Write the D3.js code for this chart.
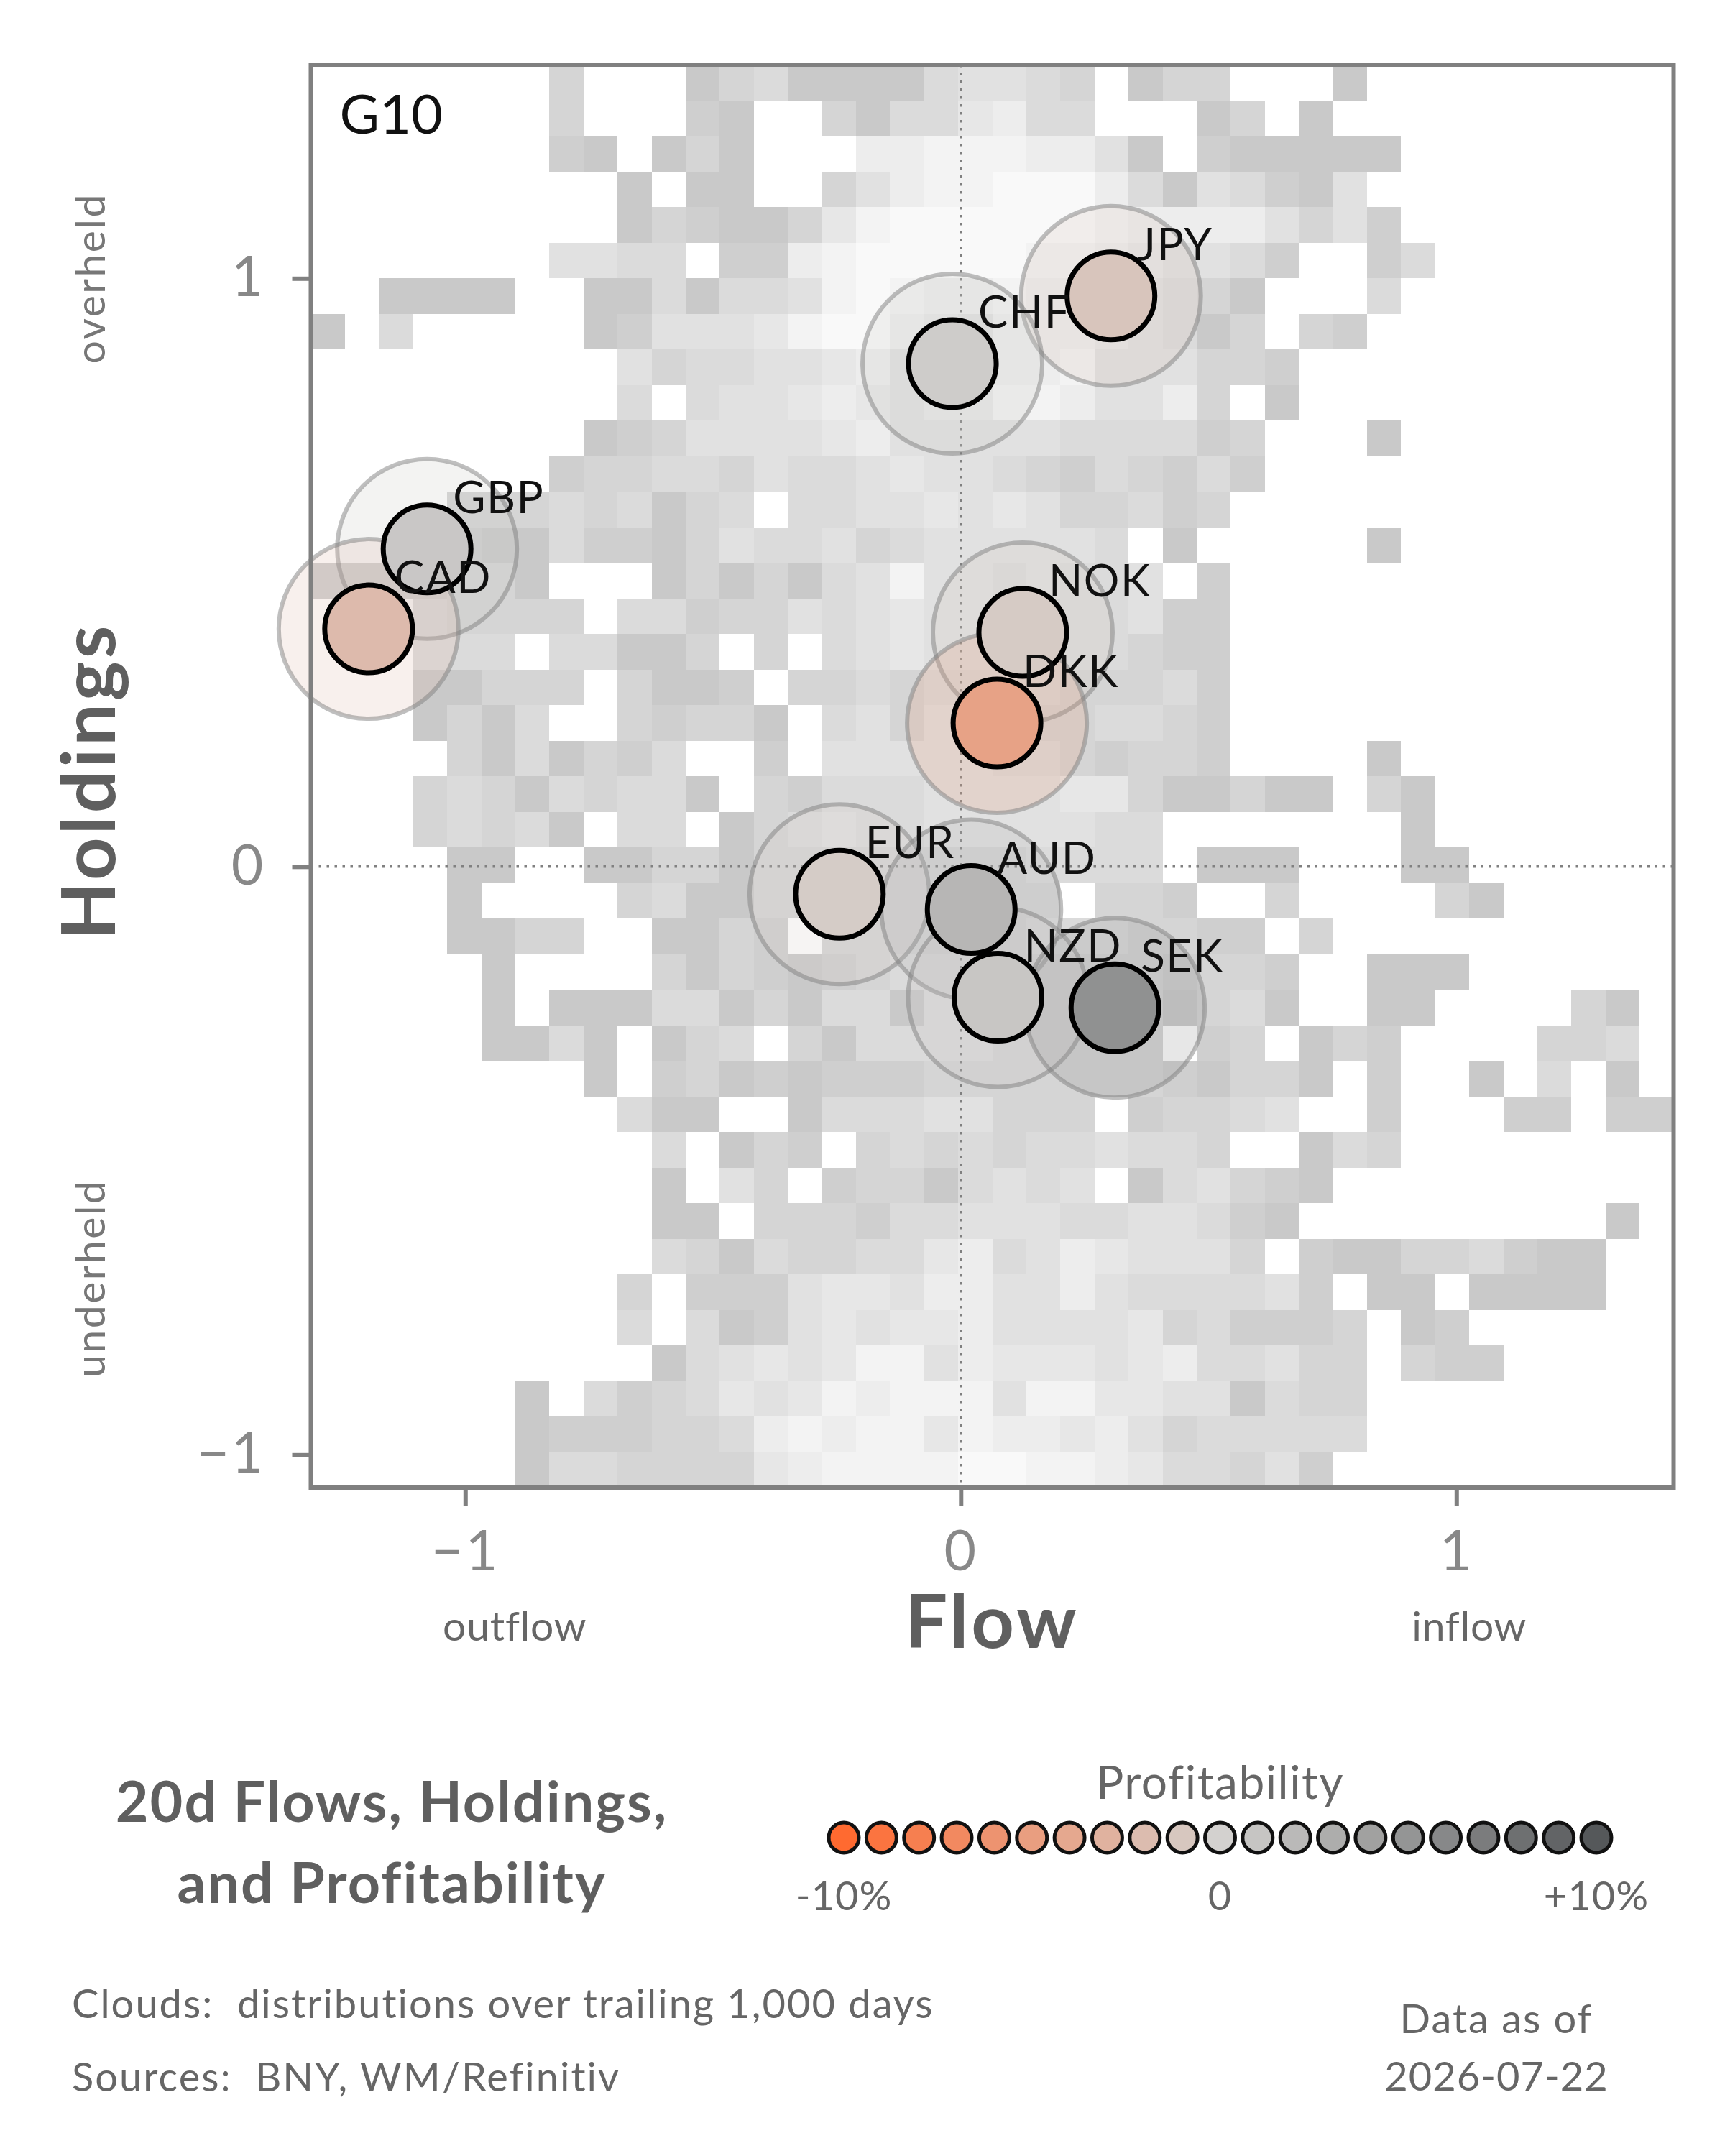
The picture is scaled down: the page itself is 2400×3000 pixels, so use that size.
<!DOCTYPE html>
<html>
<head>
<meta charset="utf-8">
<script src="https://cdn.jsdelivr.net/npm/d3@7"></script>
<style>
  body { margin: 0; background: #fff; }
  text { font-family: Lato, "Noto Sans", sans-serif; }
</style>
</head>
<body>
<script>
// ---- data ----
const currencies = ['JPY', 'CHF', 'GBP', 'CAD', 'NOK', 'DKK', 'EUR', 'AUD', 'NZD', 'SEK'];
const flows      = [0.303, -0.017, -1.077, -1.195, 0.125, 0.073, -0.245, 0.021, 0.075, 0.311];
const holdings   = [0.970, 0.855, 0.540, 0.404, 0.398, 0.244, -0.047, -0.073, -0.222, -0.240];
const profit     = [-1.2, 0.4, 0.8, -2.2, -0.6, -4.6, -0.5, 2.2, 0.9, 5.3];

const xTicks = [-1, 0, 1];
const yTicks = [-1, 0, 1];
const xDomain = [-1.3115, 1.4383];
const yDomain = [-1.0558, 1.3632];

const legendSteps = [-10, -9, -8, -7, -6, -5, -4, -3, -2, -1, 0, 1, 2, 3, 4, 5, 6, 7, 8, 9, 10];
const legendTicks = [-10, 0, 10];
const legendTickText = ['-10%', '0', '+10%'];

// 2d histogram of the trailing clouds, 40 x 40, top row first
// 0 = empty, 1 = sparse (darker grey) ... 9 = dense (near white)
const cloudRows = [
  "0000000300 0134111145 5430133000 1000000000",
  "0000000300 0210031446 7440001301 0000000000",
  "0000000210 1310007788 8775102111 1100000000",
  "0000000001 0110035788 9997415421 5000000000",
  "0000000001 3211368999 9998777753 5200000000",
  "0000000554 4022789999 9887655420 0240000000",
  "0011110011 4144589877 8776543100 0400000000",
  "1040000012 5556899765 7776541303 2000000000",
  "0000000005 3445567567 7785553320 0000000000",
  "0000000004 0455676566 8875573010 0000000000",
  "0000000012 3555567555 5544442300 0100000000",
  "0000000233 4435445655 4324324200 0000000000",
  "0000333434 1340445565 6533423000 0000000000",
  "0000211422 1354453455 5554010000 0100000000",
  "2222331000 1313145855 4544502000 0000000000",
  "0004333304 4233545655 4344522000 0000000000",
  "0004440441 1303045655 4444322000 0000000000",
  "0001133303 1120334344 4433342000 0000000000",
  "0001314003 2331045355 4334432000 0000000000",
  "0000314132 4002055555 4432332000 0100000000",
  "0003431434 4103244455 5566311311 0310000000",
  "0003434104 4013454455 5554400000 0010000000",
  "0000110011 3313333333 3444401110 0011000000",
  "0000100003 4113333333 3303320030 0003100000",
  "0000113300 1132033333 3444332203 0000000000",
  "0000010000 3132123444 3333323320 0111000000",
  "0000010111 4413144144 3333313410 0110000310",
  "0000011410 1340314444 3333302301 3200003340",
  "0000000010 2312122233 3333321331 0200104010",
  "0000000004 1100144455 3330233450 0200022022",
  "0000000000 4013203434 3445443001 4300000000",
  "0000000000 1053023314 5450145321 0000000000",
  "0000000000 1103332445 5544554210 0000000010",
  "0000000000 4314334467 4576555302 1133421100",
  "0000000003 0222566577 5575444452 0110111100",
  "0000000004 0412565667 5555634222 3012000000",
  "0000000000 1456568857 6665674453 3032200000",
  "0000001042 3465687888 5886655143 3000000000",
  "0000001222 3347878868 7767534444 4000000000",
  "0000001443 3336788889 9887644352 0000000000"
];

// ---- layout ----
const W = 2400, H = 3000;
const L = 432.5, R = 2328.5, T = 90, B = 2070;
const AXIS_GREY = '#808080';
const TEXT_GREY = '#666';
const TITLE_GREY = '#5f5f5f';

const svg = d3.select('body').append('svg')
    .attr('width', W)
    .attr('height', H);

const x = d3.scaleLinear().domain(xDomain).range([L, R]);
const y = d3.scaleLinear().domain(yDomain).range([B, T]);
const nCols = cloudRows[0].replace(/ /g, '').length;
const col = d3.scaleBand().domain(d3.range(nCols)).range([L, R]);
const row = d3.scaleBand().domain(d3.range(cloudRows.length)).range([T, B]);
const shade = d3.scaleLinear().domain([1, 9]).range(['#c9c9c9', '#f9f9f9']);
const profColor = d3.scaleLinear()
    .domain([-10, 0, 10])
    .range(['#ff6a30', '#d3d1cf', '#55585a'])
    .clamp(true);

// clouds
const cells = [];
cloudRows.forEach((s, r) => {
    s.replace(/ /g, '').split('').forEach((ch, c) => {
        if (+ch > 0) cells.push({r: r, c: c, v: +ch});
    });
});
svg.append('g')
    .selectAll('rect')
    .data(cells)
    .join('rect')
        .attr('x', d => col(d.c))
        .attr('y', d => row(d.r))
        .attr('width', col.bandwidth())
        .attr('height', row.bandwidth())
        .attr('fill', d => shade(d.v))
        .attr('shape-rendering', 'crispEdges');

// zero lines
svg.append('line')
    .attr('x1', x(0)).attr('x2', x(0))
    .attr('y1', T).attr('y2', B)
    .attr('stroke', AXIS_GREY).attr('stroke-width', 3.5)
    .attr('stroke-dasharray', '3.5,7.5');
svg.append('line')
    .attr('x1', L).attr('x2', R)
    .attr('y1', y(0)).attr('y2', y(0))
    .attr('stroke', AXIS_GREY).attr('stroke-width', 3.5)
    .attr('stroke-dasharray', '3.5,7.5');

// bubbles: halo, then marker, then label
const idx = d3.range(currencies.length);
svg.append('g')
    .selectAll('circle')
    .data(idx)
    .join('circle')
        .attr('cx', i => x(flows[i]))
        .attr('cy', i => y(holdings[i]))
        .attr('r', 125)
        .attr('fill', i => profColor(profit[i]))
        .attr('fill-opacity', 0.22)
        .attr('stroke', AXIS_GREY)
        .attr('stroke-opacity', 0.5)
        .attr('stroke-width', 6);

svg.append('g')
    .selectAll('circle')
    .data(idx)
    .join('circle')
        .attr('cx', i => x(flows[i]))
        .attr('cy', i => y(holdings[i]))
        .attr('r', 61)
        .attr('fill', i => profColor(profit[i]))
        .attr('stroke', '#000')
        .attr('stroke-width', 7);

svg.append('g')
    .selectAll('text')
    .data(idx)
    .join('text')
        .attr('x', i => x(flows[i]) + 36)
        .attr('y', i => y(holdings[i]) - 50)
        .attr('font-size', 62)
        .attr('letter-spacing', 1.5)
        .attr('fill', '#111')
        .text(i => currencies[i]);

svg.append('text')
    .attr('x', L + 40)
    .attr('y', 186)
    .attr('font-size', 76)
    .attr('fill', '#111')
    .text('G10');

// axes
function styleAxis(g) {
    g.attr('font-size', null).attr('font-family', null);
    g.select('.domain').remove();
    g.selectAll('line').attr('stroke', AXIS_GREY).attr('stroke-width', 6);
    g.selectAll('text').attr('font-size', 77).attr('letter-spacing', 3).attr('fill', '#888');
}
svg.append('g')
    .attr('transform', `translate(0,${B})`)
    .call(d3.axisBottom(x).tickValues(xTicks).tickSize(26).tickPadding(34).tickFormat(d3.format('d')))
    .call(styleAxis);
svg.append('g')
    .attr('transform', `translate(${L},0)`)
    .call(d3.axisLeft(y).tickValues(yTicks).tickSize(26).tickPadding(37).tickFormat(d3.format('d')))
    .call(styleAxis);

svg.append('rect')
    .attr('x', L).attr('y', T)
    .attr('width', R - L).attr('height', B - T)
    .attr('fill', 'none')
    .attr('stroke', AXIS_GREY)
    .attr('stroke-width', 6);

// axis titles and side notes
svg.append('text')
    .attr('x', (L + R) / 2).attr('y', 2293)
    .attr('text-anchor', 'middle')
    .attr('font-size', 104).attr('font-weight', 700)
    .attr('letter-spacing', 4)
    .attr('fill', TITLE_GREY)
    .text('Flow');
svg.append('text')
    .attr('transform', 'translate(160,1087) rotate(-90)')
    .attr('text-anchor', 'middle')
    .attr('font-size', 104).attr('font-weight', 700)
    .attr('letter-spacing', 4)
    .attr('fill', TITLE_GREY)
    .text('Holdings');

svg.append('text')
    .attr('x', x(-0.9)).attr('y', 2283)
    .attr('text-anchor', 'middle')
    .attr('font-size', 57).attr('letter-spacing', 0.8).attr('fill', TEXT_GREY)
    .text('outflow');
svg.append('text')
    .attr('x', x(1.026)).attr('y', 2283)
    .attr('text-anchor', 'middle')
    .attr('font-size', 57).attr('letter-spacing', 0.8).attr('fill', TEXT_GREY)
    .text('inflow');
svg.append('text')
    .attr('transform', `translate(146,${y(1)}) rotate(-90)`)
    .attr('text-anchor', 'middle')
    .attr('font-size', 57).attr('letter-spacing', 2.5).attr('fill', '#777')
    .text('overheld');
svg.append('text')
    .attr('transform', `translate(146,${y(-0.7)}) rotate(-90)`)
    .attr('text-anchor', 'middle')
    .attr('font-size', 57).attr('letter-spacing', 2.5).attr('fill', '#777')
    .text('underheld');

// title
svg.append('text')
    .attr('x', 545).attr('y', 2535)
    .attr('text-anchor', 'middle')
    .attr('font-size', 79).attr('font-weight', 700)
    .attr('letter-spacing', 2)
    .attr('fill', TITLE_GREY)
    .text('20d Flows, Holdings,');
svg.append('text')
    .attr('x', 545).attr('y', 2648)
    .attr('text-anchor', 'middle')
    .attr('font-size', 79).attr('font-weight', 700)
    .attr('letter-spacing', 2)
    .attr('fill', TITLE_GREY)
    .text('and Profitability');

// profitability legend
const lg = d3.scalePoint().domain(legendSteps).range([1174, 2221]);
svg.append('text')
    .attr('x', (1174 + 2221) / 2).attr('y', 2503)
    .attr('text-anchor', 'middle')
    .attr('font-size', 64).attr('letter-spacing', 1.5).attr('fill', TEXT_GREY)
    .text('Profitability');
svg.append('g')
    .selectAll('circle')
    .data(legendSteps)
    .join('circle')
        .attr('cx', d => lg(d))
        .attr('cy', 2557)
        .attr('r', 21)
        .attr('fill', d => profColor(d))
        .attr('stroke', '#111')
        .attr('stroke-width', 5);
svg.append('g')
    .selectAll('text')
    .data(legendTicks)
    .join('text')
        .attr('x', d => lg(d))
        .attr('y', 2658)
        .attr('text-anchor', 'middle')
        .attr('font-size', 56).attr('letter-spacing', 1).attr('fill', TEXT_GREY)
        .text((d, i) => legendTickText[i]);

// footer
svg.append('text')
    .attr('x', 100).attr('y', 2808)
    .attr('font-size', 56).attr('letter-spacing', 2).attr('fill', TEXT_GREY)
    .style('white-space', 'pre')
    .text('Clouds:  distributions over trailing 1,000 days');
svg.append('text')
    .attr('x', 100).attr('y', 2910)
    .attr('font-size', 56).attr('letter-spacing', 2).attr('fill', TEXT_GREY)
    .style('white-space', 'pre')
    .text('Sources:  BNY, WM/Refinitiv');
svg.append('text')
    .attr('x', 2082).attr('y', 2829)
    .attr('text-anchor', 'middle')
    .attr('font-size', 56).attr('letter-spacing', 2).attr('fill', TEXT_GREY)
    .text('Data as of');
svg.append('text')
    .attr('x', 2082).attr('y', 2909)
    .attr('text-anchor', 'middle')
    .attr('font-size', 56).attr('letter-spacing', 1).attr('fill', TEXT_GREY)
    .text('2026-07-22');
</script>
</body>
</html>
